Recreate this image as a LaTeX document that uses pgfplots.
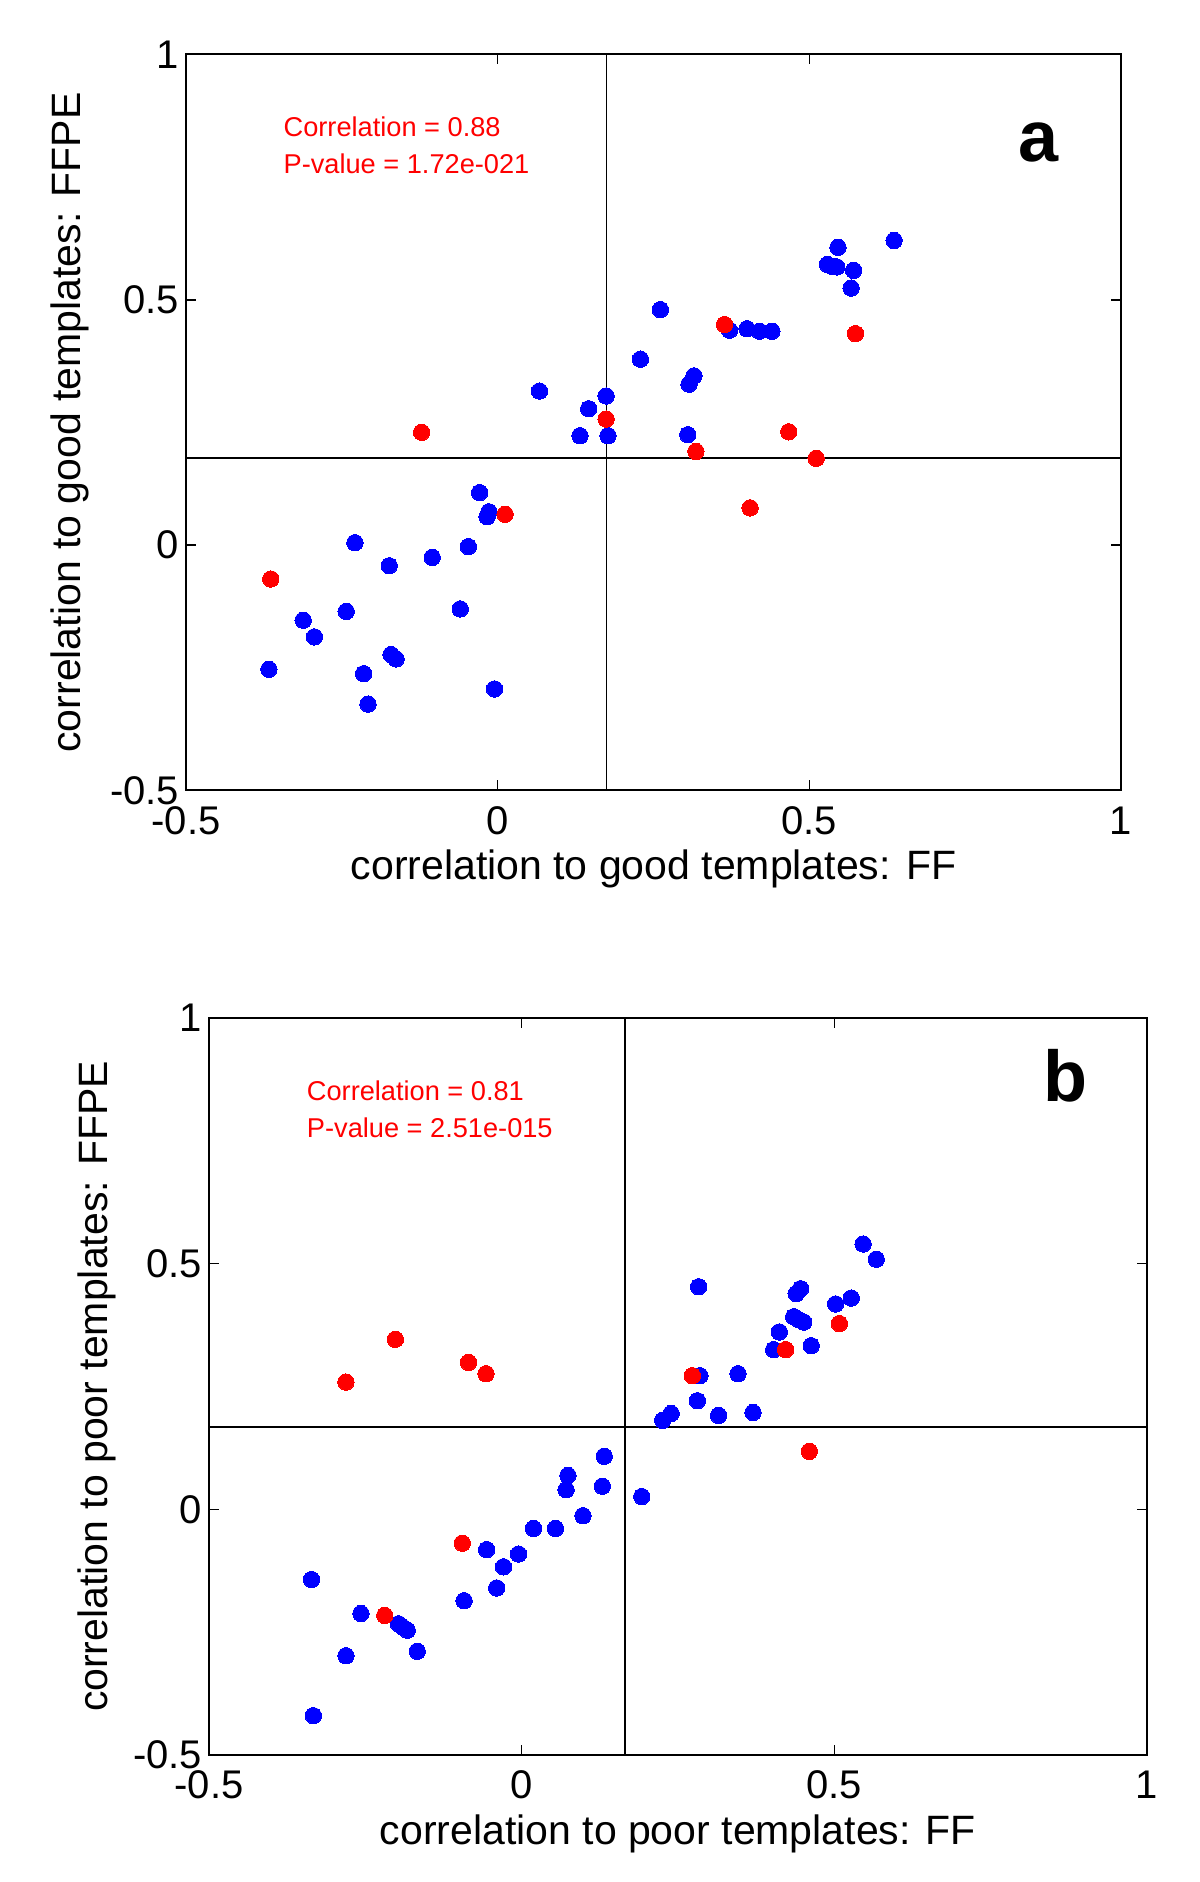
\documentclass[border=0pt]{standalone}
\usepackage{pgfplots}
\pgfplotsset{compat=1.18}
\usepackage{fontspec}
\setmainfont{Liberation Sans}

\pgfplotstableread{
x y
0.261 0.480
0.229 0.379
0.067 0.314
0.174 0.304
0.146 0.278
0.132 0.223
0.177 0.223
-0.029 0.107
-0.014 0.068
-0.017 0.058
-0.229 0.005
-0.047 -0.003
-0.105 -0.025
-0.174 -0.042
-0.243 -0.135
-0.060 -0.130
-0.312 -0.153
-0.294 -0.187
-0.171 -0.223
-0.163 -0.232
-0.367 -0.253
-0.215 -0.262
-0.005 -0.293
-0.208 -0.324
0.546 0.607
0.529 0.572
0.537 0.568
0.544 0.567
0.571 0.560
0.567 0.524
0.636 0.621
0.372 0.438
0.400 0.441
0.420 0.436
0.440 0.436
0.307 0.328
0.315 0.345
0.305 0.225
}\blueA

\pgfplotstableread{
x y
0.174 0.257
-0.122 0.230
0.012 0.063
-0.364 -0.069
0.364 0.4495
0.574 0.431
0.467 0.231
0.318 0.191
0.511 0.177
0.405 0.076
}\redA

\pgfplotstableread{
x y
0.281 0.221
0.2255 0.181
0.239 0.195
0.132 0.108
0.074 0.069
0.071 0.040
0.129 0.047
0.192 0.026
0.098 -0.013
0.019 -0.039
0.054 -0.039
-0.056 -0.082
-0.005 -0.091
-0.029 -0.117
-0.040 -0.160
-0.092 -0.186
-0.336 -0.143
-0.257 -0.212
-0.197 -0.233
-0.190 -0.240
-0.183 -0.246
-0.167 -0.289
-0.281 -0.298
-0.333 -0.420
0.546 0.540
0.567 0.509
0.283 0.453
0.439 0.439
0.446 0.449
0.502 0.418
0.527 0.430
0.435 0.392
0.443 0.386
0.451 0.381
0.412 0.361
0.403 0.325
0.463 0.333
0.346 0.276
0.285 0.272
0.315 0.191
0.370 0.197
}\blueB

\pgfplotstableread{
x y
-0.202 0.346
-0.085 0.299
-0.057 0.276
-0.281 0.259
0.273 0.272
0.508 0.378
0.422 0.325
-0.095 -0.069
-0.219 -0.216
0.460 0.118
}\redB

\pgfplotsset{
  panel/.style={
    scale only axis,
    xmin=-0.5, xmax=1, ymin=-0.5, ymax=1,
    xtick={-0.5,0,0.5,1}, xticklabels={-0.5,0,0.5,1},
    ytick={-0.5,0,0.5,1}, yticklabels={-0.5,0,0.5,1},
    tick align=inside, major tick length=5bp,
    tick style={black, line width=0.8bp},
    axis line style={black, line width=1bp},
    ticklabel style={font=\fontsize{20bp}{24bp}\selectfont},
    xticklabel style={yshift=-4.5bp},
    label style={font=\fontsize{20.5bp}{24bp}\selectfont},
  },
  bluedots/.style={only marks, mark=*, mark size=4.1bp, color=blue, mark options={draw=blue, fill=blue, line width=0pt}},
  reddots/.style={only marks, mark=*, mark size=4.1bp, color=red, mark options={draw=red, fill=red, line width=0pt}},
}

\begin{document}
\begin{tikzpicture}
\useasboundingbox (0,0) rectangle (600bp,941bp);

% Panel a
\begin{axis}[panel,
  at={(93bp,545.75bp)}, anchor=south west,
  width=467.5bp, height=368bp,
  xlabel={correlation to good templates: FF},
  ylabel={correlation to good templates: FFPE},
  xlabel style={at={(axis description cs:0.5,-0.106)}, anchor=center},
  ylabel style={at={(axis description cs:-0.124,0.5)}, anchor=center},
]
\addplot[black, line width=0.8bp] coordinates {(0.1745,-0.5) (0.1745,1)};
\addplot[black, line width=0.8bp] coordinates {(-0.5,0.178) (1,0.178)};
\addplot[bluedots] table[x=x,y=y] {\blueA};
\addplot[reddots] table[x=x,y=y] {\redA};
\node[anchor=west, inner sep=0pt, text=red, font=\fontsize{13.6bp}{17bp}\selectfont] at (axis cs:-0.344,0.852) {Correlation = 0.88};
\node[anchor=west, inner sep=0pt, text=red, font=\fontsize{13.6bp}{17bp}\selectfont] at (axis cs:-0.344,0.777) {P-value = 1.72e-021};
\node[anchor=center, inner sep=0pt, font=\fontsize{36bp}{40bp}\selectfont\bfseries] at (axis cs:0.868,0.821) {a};
\end{axis}

% Panel b
\begin{axis}[panel,
  at={(104.5bp,63.5bp)}, anchor=south west,
  width=469bp, height=368.5bp,
  xlabel={correlation to poor templates: FF},
  ylabel={correlation to poor templates: FFPE},
  xlabel style={at={(axis description cs:0.5,-0.107)}, anchor=center},
  ylabel style={at={(axis description cs:-0.12,0.5)}, anchor=center},
]
\addplot[black, line width=0.8bp] coordinates {(0.165,-0.5) (0.165,1)};
\addplot[black, line width=0.8bp] coordinates {(-0.5,0.167) (1,0.167)};
\addplot[bluedots] table[x=x,y=y] {\blueB};
\addplot[reddots] table[x=x,y=y] {\redB};
\node[anchor=west, inner sep=0pt, text=red, font=\fontsize{13.6bp}{17bp}\selectfont] at (axis cs:-0.344,0.852) {Correlation = 0.81};
\node[anchor=west, inner sep=0pt, text=red, font=\fontsize{13.6bp}{17bp}\selectfont] at (axis cs:-0.344,0.777) {P-value = 2.51e-015};
\node[anchor=center, inner sep=0pt, font=\fontsize{36bp}{40bp}\selectfont\bfseries] at (axis cs:0.869,0.882) {b};
\end{axis}
\end{tikzpicture}
\end{document}
